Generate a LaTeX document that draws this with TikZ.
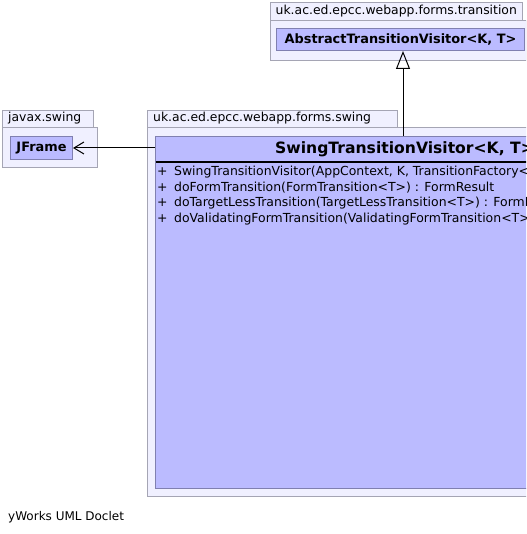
\documentclass[tikz,border=0pt]{standalone}
\usepackage{fontspec}
\setmainfont{DejaVu Sans}
\usetikzlibrary{arrows.meta}
\definecolor{pkgfill}{RGB}{240,240,255}
\definecolor{pkgline}{RGB}{165,165,180}
\definecolor{clsfill}{RGB}{187,187,255}
\definecolor{clsline}{RGB}{128,128,176}
\begin{document}
\begin{tikzpicture}[x=1pt,y=1pt,
  pkg/.style={draw=pkgline,fill=pkgfill,line width=1pt,anchor=north west,inner sep=0pt,rectangle},
  cls/.style={draw=clsline,fill=clsfill,line width=1pt,anchor=north west,inner sep=0pt,rectangle},
  tablabel/.style={anchor=west,inner sep=0pt,font=\fontsize{12.4}{14}\selectfont},
  clsname/.style={font=\bfseries\fontsize{12.9}{15}\selectfont,inner sep=0pt},
  member/.style={anchor=west,inner sep=0pt,font=\fontsize{12.45}{14}\selectfont}]
\useasboundingbox (0,0) rectangle (526,-534);
\clip (0,0) rectangle (526,-534);
\fill[white] (0,0) rectangle (526,-534);
% transition package
\node[pkg,minimum width=252,minimum height=18] (tabT) at (270,-2) {};
\node[pkg,minimum width=255.5,minimum height=40] (pkgT) at (270,-20) {};
\node[tablabel] (labT) at (275.5,-11) {uk.ac.ed.epcc.webapp.forms.transition};
\node[cls,minimum width=248,minimum height=22] (abs) at (276,-28) {};
\node[clsname] (absname) at (abs.center) {AbstractTransitionVisitor<K, T>};
% javax.swing package
\node[pkg,minimum width=91,minimum height=17] (tabJ) at (2,-110) {};
\node[pkg,minimum width=95,minimum height=40] (pkgJ) at (2,-127) {};
\node[tablabel] (labJ) at (8,-118.5) {javax.swing};
\node[cls,minimum width=62,minimum height=23] (jframe) at (10,-136) {};
\node[clsname] (jname) at (jframe.center) {JFrame};
% swing package
\node[pkg,minimum width=250,minimum height=17] (tabS) at (147,-110) {};
\node[pkg,minimum width=400,minimum height=369] (pkgS) at (147,-127) {};
\node[tablabel] (labS) at (153,-118.5) {uk.ac.ed.epcc.webapp.forms.swing};
\node[cls,minimum width=400,minimum height=352] (swing) at (155,-136) {};
\draw[black,line width=2pt] (155.5,-162) coordinate (sepL) -- (560,-162) coordinate (sepR);
\node[anchor=west,inner sep=0pt,font=\bfseries\fontsize{15.6}{18}\selectfont] (sname) at (275,-149.5) {SwingTransitionVisitor<K, T>};
\node[member] (m1) at (157,-172.5) {+\hspace{6.5pt}SwingTransitionVisitor(AppContext, K, TransitionFactory<K, T>)};
\node[member] (m2) at (157,-188) {+\hspace{6.5pt}doFormTransition(FormTransition<T>) : FormResult};
\node[member] (m3) at (157,-203.5) {+\hspace{6.5pt}doTargetLessTransition(TargetLessTransition<T>) : FormResult};
\node[member] (m4) at (157,-219) {+\hspace{6.5pt}doValidatingFormTransition(ValidatingFormTransition<T>) : FormResult};
% connectors
\coordinate (genStart) at (403,-136);
\draw[line width=1pt,-{Triangle[open,length=18pt,width=14pt]}] (genStart) -- (genStart |- abs.south);
\draw[line width=1pt,-{Straight Barb[length=10pt,width=12pt]}] (swing.west |- jframe.east) -- (jframe.east);
% footer
\node[anchor=west,inner sep=0pt,font=\fontsize{12}{14}\selectfont] (footer) at (8,-517) {yWorks UML Doclet};
\end{tikzpicture}
\end{document}
